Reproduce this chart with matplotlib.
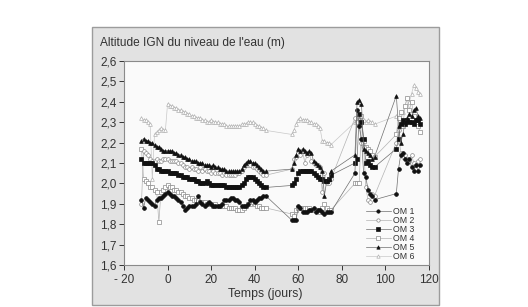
import matplotlib
matplotlib.use('Agg')
import matplotlib.pyplot as plt
from matplotlib.patches import Rectangle

plt.rcParams['font.family'] = ['Liberation Sans', 'DejaVu Sans']

# ---- data (days, water level in m IGN) ----
days = (list(range(-12, 46)) + list(range(57, 76))
        + list(range(86, 96)) + list(range(105, 117)))

om1 = [1.92, 1.88, 1.93, 1.92, 1.91, 1.90, 1.89, 1.92, 1.93, 1.93,
       1.94, 1.95, 1.96, 1.95, 1.94, 1.94, 1.93, 1.92, 1.91, 1.89,
       1.87, 1.88, 1.89, 1.89, 1.89, 1.90, 1.94, 1.91, 1.90, 1.89,
       1.90, 1.91, 1.90, 1.89, 1.89, 1.89, 1.89, 1.90, 1.92, 1.92,
       1.92, 1.93, 1.93, 1.92, 1.92, 1.91, 1.89, 1.89, 1.89, 1.90,
       1.92, 1.92, 1.91, 1.92, 1.93, 1.93, 1.94, 1.94,
       1.82, 1.82, 1.82, 1.89, 1.88, 1.86, 1.86, 1.86, 1.87, 1.87,
       1.88, 1.86, 1.87, 1.87, 1.86, 1.85, 1.86, 1.86, 1.86,
       2.05, 2.36, 2.28, 2.22, 2.05, 2.03, 1.97, 1.95, 1.94, 1.92,
       1.95, 2.07, 2.14, 2.15, 2.12, 2.10, 2.12, 2.08, 2.06, 2.09, 2.06, 2.09]

om2 = [1.90, 2.16, 2.15, 2.14, 2.12, 2.11, 2.11, 2.12, 2.11, 2.11,
       2.12, 2.12, 2.12, 2.11, 2.11, 2.11, 2.11, 2.10, 2.10, 2.09,
       2.08, 2.08, 2.07, 2.08, 2.07, 2.07, 2.06, 2.08, 2.06, 2.07,
       2.06, 2.06, 2.05, 2.06, 2.05, 2.05, 2.05, 2.04, 2.05, 2.04,
       2.04, 2.04, 2.04, 2.04, 2.05, 2.05, 2.06, 2.08, 2.09, 2.09,
       2.09, 2.08, 2.08, 2.07, 2.06, 2.05, 2.04, 2.04,
       2.07, 2.12, 2.13, 2.15, 2.14, 2.16, 2.10, 2.14, 2.15, 2.11,
       2.10, 2.09, 2.09, 2.08, 1.96, 2.05, 2.00, 2.00, 2.02,
       2.32, 2.30, 2.28, 2.20, 2.18, 1.98, 1.92, 1.91, 1.95, 1.94,
       2.20, 2.26, 2.15, 2.13, 2.14, 2.12, 2.11, 2.14, 2.10, 2.09, 2.11, 2.12]

om3 = [2.12, 2.10, 2.10, 2.10, 2.10, 2.10, 2.09, 2.07, 2.07, 2.06,
       2.06, 2.06, 2.06, 2.05, 2.05, 2.05, 2.05, 2.04, 2.04, 2.03,
       2.03, 2.03, 2.02, 2.02, 2.02, 2.01, 2.01, 2.00, 2.00, 2.00,
       2.01, 2.00, 1.99, 1.99, 1.99, 1.99, 1.99, 1.99, 1.99, 1.98,
       1.98, 1.98, 1.98, 1.98, 1.98, 1.98, 1.99, 2.00, 2.02, 2.03,
       2.03, 2.03, 2.02, 2.01, 2.00, 1.99, 1.98, 1.98,
       1.99, 2.00, 2.02, 2.05, 2.06, 2.06, 2.06, 2.06, 2.06, 2.06,
       2.05, 2.04, 2.03, 2.02, 2.02, 2.01, 2.01, 2.02, 2.04,
       2.10, 2.12, 2.34, 2.30, 2.22, 2.10, 2.11, 2.09, 2.08, 2.08,
       2.17, 2.22, 2.29, 2.31, 2.29, 2.31, 2.30, 2.30, 2.29, 2.31, 2.31, 2.29]

om4 = [2.17, 2.02, 2.01, 2.00, 1.98, 1.98, 1.97, 1.96, 1.81, 1.96,
       1.97, 1.98, 1.99, 1.98, 1.98, 1.97, 1.97, 1.96, 1.96, 1.95,
       1.94, 1.94, 1.93, 1.93, 1.92, 1.92, 1.92, 1.91, 1.91, 1.91,
       1.90, 1.90, 1.90, 1.89, 1.90, 1.89, 1.89, 1.89, 1.89, 1.89,
       1.88, 1.88, 1.88, 1.88, 1.87, 1.87, 1.87, 1.88, 1.89, 1.90,
       1.90, 1.91, 1.90, 1.89, 1.89, 1.88, 1.88, 1.88,
       1.85, 1.84, 1.87, 1.88, 1.88, 1.88, 1.88, 1.88, 1.88, 1.87,
       1.87, 1.87, 1.87, 1.86, 1.88, 1.90, 1.88, 1.87, 1.87,
       2.00, 2.00, 2.00, 2.33, 2.21, 2.18, 2.17, 2.16, 2.14, 2.13,
       2.24, 2.32, 2.35, 2.28, 2.38, 2.42, 2.36, 2.40, 2.33, 2.30, 2.28, 2.25]

om5 = [2.21, 2.22, 2.21, 2.21, 2.20, 2.20, 2.19, 2.18, 2.18, 2.17,
       2.16, 2.16, 2.16, 2.16, 2.16, 2.15, 2.15, 2.14, 2.14, 2.13,
       2.13, 2.12, 2.12, 2.11, 2.11, 2.11, 2.10, 2.10, 2.10, 2.09,
       2.09, 2.09, 2.08, 2.09, 2.08, 2.08, 2.07, 2.07, 2.07, 2.06,
       2.06, 2.06, 2.06, 2.06, 2.06, 2.06, 2.07, 2.09, 2.10, 2.11,
       2.11, 2.10, 2.10, 2.09, 2.08, 2.07, 2.06, 2.06,
       2.07, 2.10, 2.14, 2.17, 2.16, 2.17, 2.16, 2.15, 2.16, 2.15,
       2.11, 2.10, 2.09, 2.08, 2.06, 1.94, 2.01, 2.02, 2.06,
       2.14, 2.40, 2.41, 2.39, 2.17, 2.16, 2.15, 2.14, 2.12, 2.13,
       2.43, 2.28, 2.20, 2.24, 2.30, 2.32, 2.34, 2.33, 2.36, 2.37, 2.33, 2.32]

om6 = [2.32, 2.31, 2.31, 2.30, 2.29, 2.02, 2.24, 2.25, 2.26, 2.27,
       2.26, 2.26, 2.39, 2.38, 2.38, 2.37, 2.37, 2.36, 2.36, 2.35,
       2.35, 2.34, 2.34, 2.33, 2.33, 2.32, 2.32, 2.32, 2.31, 2.31,
       2.30, 2.30, 2.31, 2.30, 2.30, 2.30, 2.29, 2.29, 2.29, 2.28,
       2.28, 2.28, 2.28, 2.28, 2.28, 2.28, 2.29, 2.29, 2.29, 2.30,
       2.30, 2.30, 2.29, 2.28, 2.28, 2.27, 2.27, 2.26,
       2.24, 2.26, 2.29, 2.31, 2.32, 2.31, 2.31, 2.31, 2.30, 2.30,
       2.29, 2.29, 2.28, 2.27, 2.21, 2.21, 2.20, 2.20, 2.19,
       2.30, 2.31, 2.32, 2.31, 2.31, 2.30, 2.31, 2.30, 2.30, 2.29,
       2.33, 2.32, 2.30, 2.35, 2.38, 2.42, 2.40, 2.44, 2.48, 2.47, 2.45, 2.44]

labels = ['OM 1', 'OM 2', 'OM 3', 'OM 4', 'OM 5', 'OM 6']
xticks = [-20, 0, 20, 40, 60, 80, 100, 120]
xticklabels = ['- 20', '0', '20', '40', '60', '80', '100', '120']
yticks = [1.6, 1.7, 1.8, 1.9, 2.0, 2.1, 2.2, 2.3, 2.4, 2.5, 2.6]

# ---- figure ----
fig = plt.figure(figsize=(5.28, 3.07), dpi=100)
fig.patch.set_facecolor('white')
fig.patches.append(Rectangle((92/528, 2/307), 347/528, 278/307,
                             transform=fig.transFigure, facecolor='#e2e2e2',
                             edgecolor='#9c9c9c', lw=1.0, zorder=-5))

ax = fig.add_axes([124/528, 1-265/307, 305/528, 204/307])
ax.set_facecolor('#fafafa')

styles = [
    dict(marker='o', mfc='#111111', mec='#111111', color='#6e6e6e', z=6),
    dict(marker='o', mfc='white', mec='#8a8a8a', color='#b3b3b3', z=4),
    dict(marker='s', mfc='#111111', mec='#111111', color='#6e6e6e', z=5),
    dict(marker='s', mfc='white', mec='#8a8a8a', color='#b3b3b3', z=3),
    dict(marker='^', mfc='#111111', mec='#111111', color='#6e6e6e', z=7),
    dict(marker='^', mfc='white', mec='#b0b0b0', color='#c8c8c8', z=2),
]

for vals, lab, st in zip([om1, om2, om3, om4, om5, om6], labels, styles):
    ax.plot(days, vals, color=st['color'], lw=0.5, marker=st['marker'],
            ms=2.7, mfc=st['mfc'], mec=st['mec'], mew=0.5,
            label=lab, zorder=st['z'])

ax.set_xlim(-20, 120)
ax.set_ylim(1.6, 2.6)
ax.set_xticks(xticks)
ax.set_xticklabels(xticklabels)
ax.set_yticks(yticks)
ax.set_yticklabels([f'{v:.1f}'.replace('.', ',') for v in yticks])
ax.tick_params(labelsize=8.5, colors='#333333', length=3.5, width=0.7,
               direction='out', pad=2)
ax.tick_params(axis='x', pad=3)
for s in ax.spines.values():
    s.set_color('#8a8a8a')
    s.set_linewidth(0.8)

fig.text(100/528, 1-43/307, "Altitude IGN du niveau de l'eau (m)",
         fontsize=8.6, color='#333333', va='center', ha='left')
fig.text(265/528, 1-294/307, 'Temps (jours)', fontsize=8.8,
         color='#333333', va='center', ha='center')

leg = ax.legend(loc='upper left', bbox_to_anchor=(366/528, 1-207/307),
                bbox_transform=fig.transFigure, frameon=False,
                fontsize=6.3, labelspacing=0.0, handlelength=2.8,
                handletextpad=0.3, borderpad=0, borderaxespad=0,
                markerscale=0.9)
for t in leg.get_texts():
    t.set_color('#333333')

fig.savefig('out.png', dpi=100)
